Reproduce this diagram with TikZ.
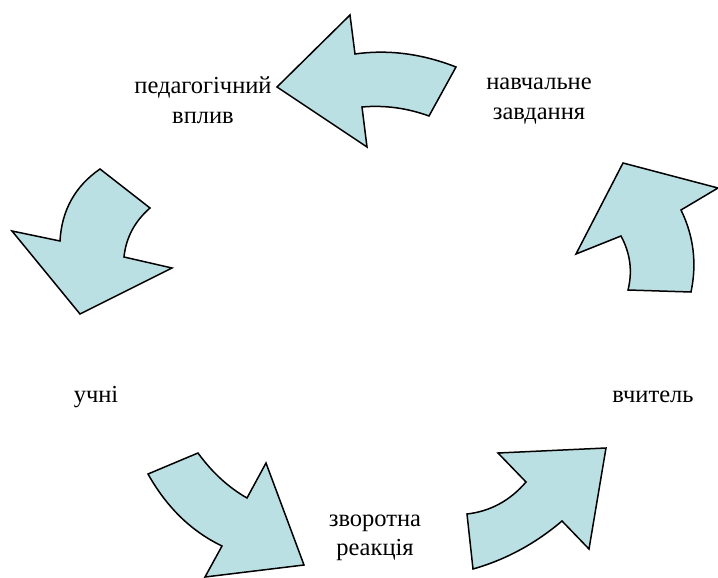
\documentclass[tikz,border=0pt]{standalone}
\usepackage{fontspec}
\setmainfont{Liberation Serif}
\definecolor{arrowfill}{RGB}{187,224,227}
\tikzset{
  bigarrow/.style={draw=black, line width=1.5pt, fill=arrowfill, line join=miter},
  label/.style={align=center, font=\fontsize{24.5}{29.5}\selectfont, inner sep=0pt}
}

\begin{document}
\begin{tikzpicture}[x=1pt, y=-1pt]
  \useasboundingbox (0,0) rectangle (718,578);

  % Labels
  \node[label] (vplyv)   at (203, 100)  {педагогічний\\вплив};
  \node[label] (zavd)    at (539, 101)  {навчальне\\завдання};
  \node[label] (uchni)   at (96, 397)  {учні};
  \node[label] (vchytel) at (653, 397) {вчитель};
  \node[label] (reakc)   at (375, 538) {зворотна\\реакція};

  % Arrows
  % top, pointing left
  \draw[bigarrow] (277,87) -- (350,15) -- (355,54)
    .. controls (388.3,49.3) and (422,53.7) .. (456,67) -- (429,116)
    .. controls (407,108) and (384.7,105) .. (362,107) -- (367,147) -- cycle;
  % right, pointing up
  \draw[bigarrow] (623,163) -- (718,188) -- (681,210)
    .. controls (693.7,236) and (697,263.3) .. (691,292) -- (628,290)
    .. controls (632.7,271.3) and (630.3,253.3) .. (621,236) -- (576,254) -- cycle;
  % left, pointing down
  \draw[bigarrow] (100,169) -- (150,208)
    .. controls (134.7,221.3) and (126,237.7) .. (124,257) -- (172,268) -- (80,314)
    -- (12,231) -- (60,241) .. controls (61.7,210.3) and (75,186.3) .. cycle;
  % bottom left, pointing down-right
  \draw[bigarrow] (148,474) -- (198,453)
    .. controls (212,472.3) and (228.3,487.3) .. (247,498) -- (266,463) -- (304,565)
    -- (205,577) -- (222,546) .. controls (191.3,531.3) and (166.7,507.3) .. cycle;
  % bottom right, pointing up-right
  \draw[bigarrow] (498,453) -- (606,448) -- (589,549) -- (562,521)
    .. controls (535.3,543.7) and (505.7,559.7) .. (473,569) -- (467,514)
    .. controls (490.3,511.3) and (510,500.7) .. (526,482) -- cycle;
\end{tikzpicture}
\end{document}
